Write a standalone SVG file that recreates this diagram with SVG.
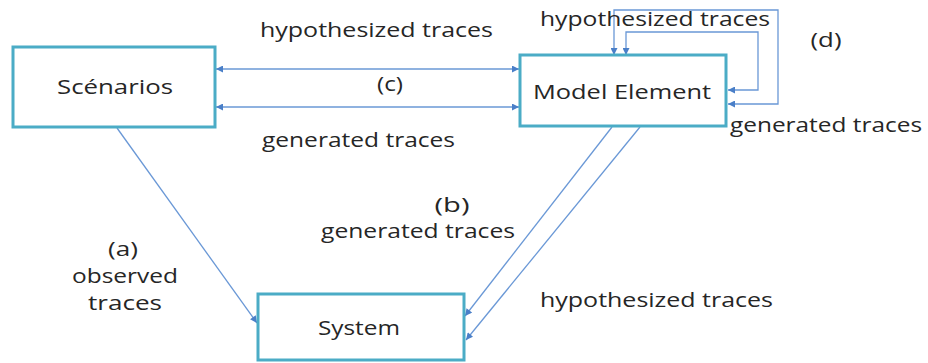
<svg xmlns="http://www.w3.org/2000/svg" width="928" height="363" viewBox="0 0 928 363">
<defs>
<style>
.box{fill:#fff;stroke:#4BACC6;stroke-width:3}
.ln{fill:none;stroke:#6A98D6;stroke-width:1.3}
.t{font-family:"Open Sans","Liberation Sans",sans-serif;font-size:20px;fill:#262626}
.c{text-anchor:middle}
</style>
<marker id="ah" viewBox="0 0 10 10" refX="10" refY="5" markerWidth="9" markerHeight="7" markerUnits="userSpaceOnUse" orient="auto-start-reverse">
<path d="M0,0 L10,5 L0,10 z" fill="#4A7FC8"/>
</marker>
</defs>
<rect width="928" height="363" fill="#fff"/>
<g id="connectors">
<path class="ln" d="M216,69 L519,69" marker-start="url(#ah)" marker-end="url(#ah)"/>
<path class="ln" d="M216,107 L519,107" marker-start="url(#ah)" marker-end="url(#ah)"/>
<path class="ln" d="M728,104 L778,104 L778,10 L614,10 L614,55" marker-start="url(#ah)" marker-end="url(#ah)"/>
<path class="ln" d="M728,90 L758,90 L758,32 L626,32 L626,55" marker-start="url(#ah)" marker-end="url(#ah)"/>
<path class="ln" d="M612,127 L465,316" marker-end="url(#ah)"/>
<path class="ln" d="M640,127 L466,340" marker-end="url(#ah)"/>
<path class="ln" d="M117,128 L257,323" marker-end="url(#ah)"/>
</g>
<g id="scenarios">
<rect class="box" x="13" y="47" width="202" height="80"/>
<text class="t c" x="115" y="94" textLength="116" lengthAdjust="spacingAndGlyphs">Scénarios</text>
</g>
<g id="model-element">
<rect class="box" x="520" y="55" width="206" height="71"/>
<text class="t c" x="622" y="99" textLength="178" lengthAdjust="spacingAndGlyphs">Model Element</text>
</g>
<g id="system">
<rect class="box" x="258" y="294" width="206" height="66"/>
<text class="t c" x="359" y="335" textLength="82" lengthAdjust="spacingAndGlyphs">System</text>
</g>
<g id="labels">
<text class="t" x="260" y="37" textLength="233" lengthAdjust="spacingAndGlyphs">hypothesized traces</text>
<text class="t c" x="390" y="91" textLength="26" lengthAdjust="spacingAndGlyphs">(c)</text>
<text class="t" x="262" y="147" textLength="193" lengthAdjust="spacingAndGlyphs">generated traces</text>
<text class="t" x="540" y="26" textLength="230" lengthAdjust="spacingAndGlyphs">hypothesized traces</text>
<text class="t c" x="826" y="47" textLength="31" lengthAdjust="spacingAndGlyphs">(d)</text>
<text class="t" x="730" y="132" textLength="192" lengthAdjust="spacingAndGlyphs">generated traces</text>
<text class="t c" x="452" y="212" textLength="35" lengthAdjust="spacingAndGlyphs">(b)</text>
<text class="t" x="321" y="238" textLength="194" lengthAdjust="spacingAndGlyphs">generated traces</text>
<text class="t" x="540" y="307" textLength="233" lengthAdjust="spacingAndGlyphs">hypothesized traces</text>
<text class="t c" x="123" y="256" textLength="30" lengthAdjust="spacingAndGlyphs">(a)</text>
<text class="t c" x="125" y="283" textLength="106" lengthAdjust="spacingAndGlyphs">observed</text>
<text class="t c" x="125" y="310" textLength="74" lengthAdjust="spacingAndGlyphs">traces</text>
</g>
</svg>
